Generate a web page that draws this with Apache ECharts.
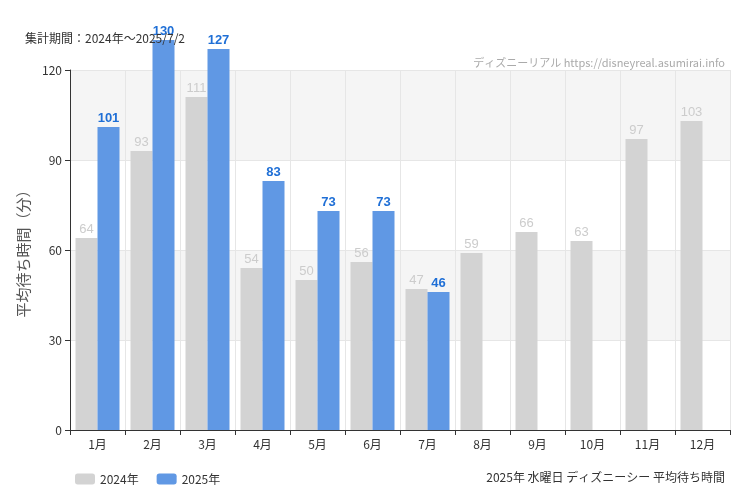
<!DOCTYPE html>
<html><head><meta charset="utf-8">
<script src="https://cdn.jsdelivr.net/npm/echarts@6/dist/echarts.min.js"></script>
<style>html,body{margin:0;padding:0;}#main{width:750px;height:500px;}</style>
</head><body><div id="main"></div>
<script>
var months = ['1月', '2月', '3月', '4月', '5月', '6月', '7月', '8月', '9月', '10月', '11月', '12月'];
var y2024 = [64, 93, 111, 54, 50, 56, 47, 59, 66, 63, 97, 103];
var y2025 = [101, 130, 127, 83, 73, 73, 46, null, null, null, null, null];
var yTicks = [0, 30, 60, 90, 120];

var myChart = echarts.init(document.getElementById('main'));
var font = '"Noto Sans CJK JP", sans-serif';
option = {
	textStyle: { fontFamily: font },
	title: [
		{ text: '集計期間：2024年～2025/7/2', left: 20, top: 27, textStyle: { fontSize: 12, fontWeight: 'normal', color: '#333' } },
		{ text: 'ディズニーリアル https://disneyreal.asumirai.info', right: 20, top: 52, textStyle: { fontSize: 11, fontWeight: 'normal', color: '#aaa', fontFamily: '"Liberation Sans Narrow", "Noto Sans CJK JP", sans-serif' } },
		{ text: '2025年 水曜日 ディズニーシー 平均待ち時間', right: 20, top: 466, textStyle: { fontSize: 12, fontWeight: 'normal', color: '#333' } }
	],
	legend: {
		left: 70, top: 468, itemWidth: 20, itemHeight: 11, itemGap: 18,
		textStyle: { fontSize: 12, color: '#333' },
		data: ['2024年', '2025年']
	},
	grid: { left: 70, right: 20, top: 70, bottom: 70 },
	xAxis: {
		type: 'category', data: months,
		axisLine: { lineStyle: { color: '#333' } },
		axisTick: { show: true, alignWithLabel: false },
		axisLabel: { color: '#333', fontSize: 12 },
		splitLine: { show: true, lineStyle: { color: '#e6e6e6' } }
	},
	yAxis: {
		type: 'value', min: 0, max: 120, interval: 30,
		name: '平均待ち時間（分）', nameLocation: 'middle', nameGap: 38,
		nameTextStyle: { fontSize: 15, color: '#555' },
		axisLine: { show: true, lineStyle: { color: '#333' } },
		axisTick: { show: true },
		axisLabel: { color: '#333', fontSize: 12 },
		splitLine: { lineStyle: { color: '#e6e6e6' } },
		splitArea: { show: true, areaStyle: { color: ['#ffffff', '#f5f5f5'] } }
	},
	series: [
		{
			name: '2024年', type: 'bar', data: y2024, barGap: '0%', barCategoryGap: '20%', clip: false,
			itemStyle: { color: '#d3d3d3' },
			label: { show: true, position: 'top', distance: 2, color: '#ccc', fontSize: 13, fontFamily: '"Liberation Sans Narrow", sans-serif' }
		},
		{
			name: '2025年', type: 'bar', data: y2025, clip: false, z: 3,
			itemStyle: { color: '#6098e4' },
			label: { show: true, position: 'top', distance: 2, color: '#1f6fd6', fontSize: 13, fontWeight: 'bold', fontFamily: '"Liberation Sans Narrow", sans-serif' }
		}
	]
};
myChart.setOption(option);
</script></body></html>
